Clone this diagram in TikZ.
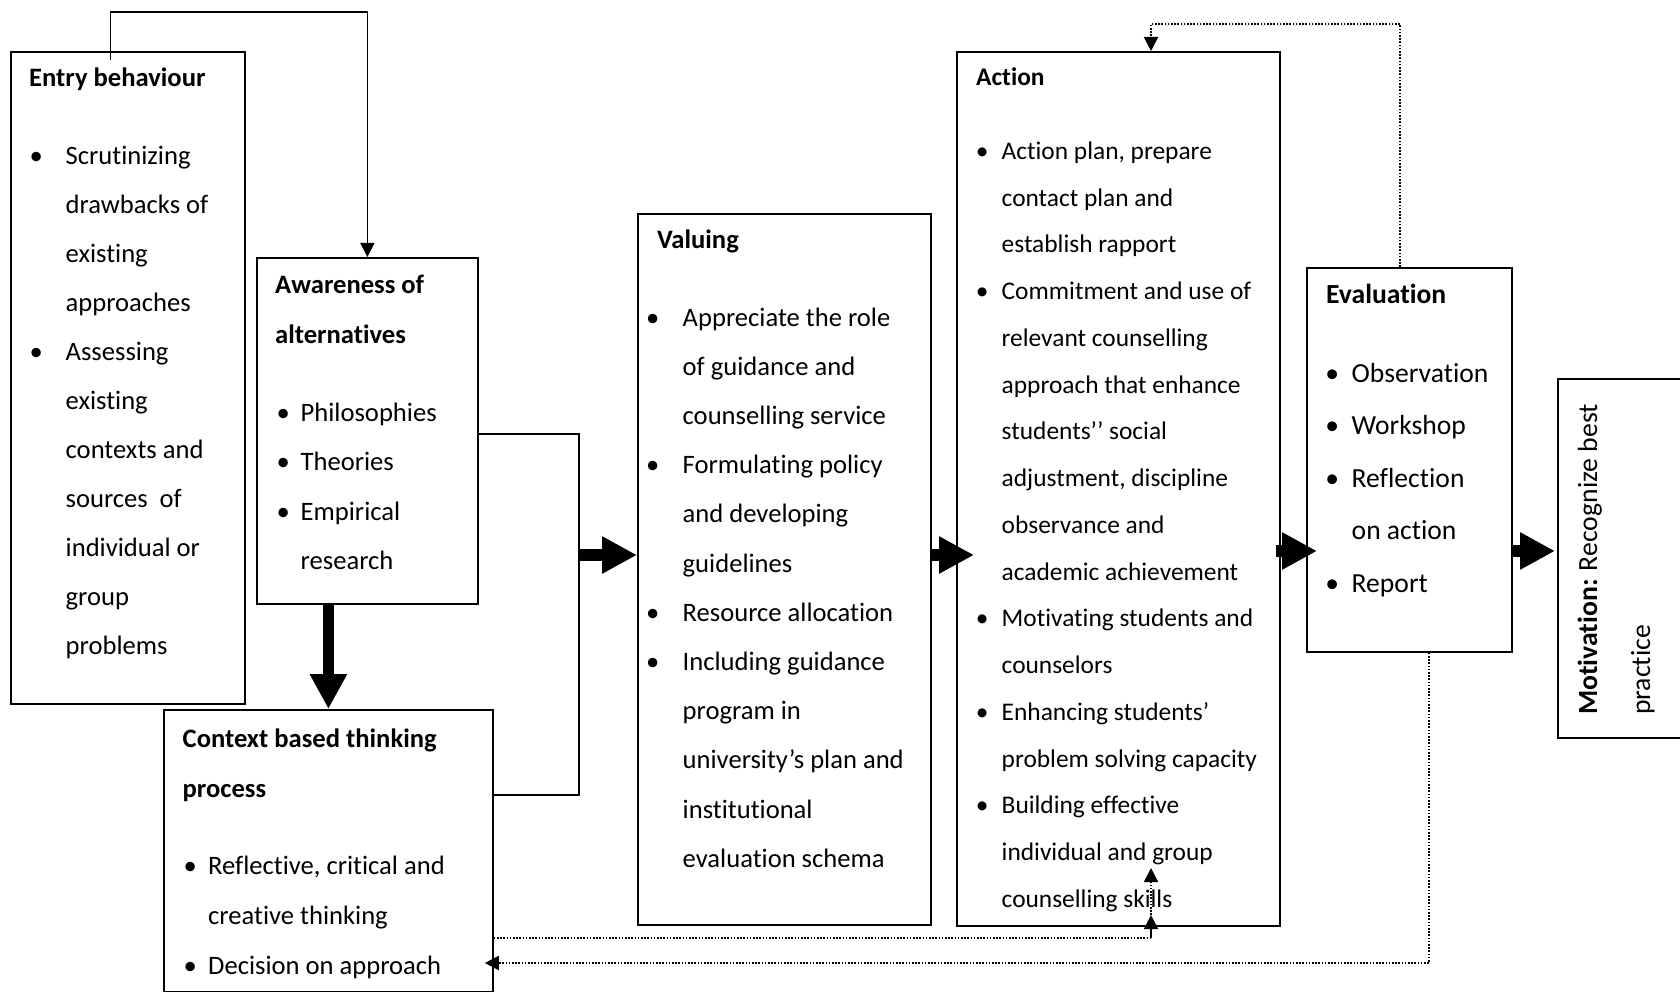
\documentclass[tikz,border=0pt]{standalone}
\usepackage{fontspec}
\setmainfont{Carlito}[Ligatures={NoCommon}]
\usetikzlibrary{arrows.meta}
\newlength\boff
\newlength\toff
\newcommand\bi[1]{\makebox[\toff][l]{\hspace*{\boff}\makebox[0pt]{\textbullet}}#1}
\newcommand\ci[1]{\hspace*{\toff}#1}
\begin{document}
\begin{tikzpicture}[x=1pt,y=-1pt,
  box/.style={draw, line width=1.8pt, inner sep=0pt, anchor=north west},
  txt/.style={anchor=base west, inner sep=0pt},
  conn/.style={line width=1.5pt},
  thinarr/.style={line width=1.5pt, -{Triangle[width=14pt,length=14pt]}},
  blk/.style={line width=11.5pt, -{Triangle[width=35pt,length=35pt]}},
  dotl/.style={line width=2pt, dash pattern=on 1.6pt off 1.6pt},
  dotarr/.style={dotl, -{Triangle[width=14pt,length=14pt]}}]
\useasboundingbox (0,0) rectangle (1680,992);
\clip (0,0) rectangle (1680,992);
% boxes
\node[box, minimum width=234pt, minimum height=652pt] (entry) at (10,51) {};
\node[box, minimum width=221pt, minimum height=346pt] (aw) at (256,257) {};
\node[box, minimum width=329pt, minimum height=282pt] (ctx) at (163,709) {};
\node[box, minimum width=293pt, minimum height=711pt] (val) at (637,213) {};
\node[box, minimum width=323pt, minimum height=874pt] (act) at (956,51) {};
\node[box, minimum width=205pt, minimum height=384pt] (ev) at (1306,267) {};
\node[box, minimum width=170pt, minimum height=359pt] (mot) at (1557,378) {};
% texts
\node[txt, font={\fontsize{26.6}{49}\selectfont}] (entrytxt) at (29,87) {%
\setlength\boff{7pt}\setlength\toff{36.5pt}%
\begin{tabular}[t]{@{}l@{}}
\textbf{Entry behaviour}\\[29pt]
\bi{Scrutinizing}\\
\ci{drawbacks of}\\
\ci{existing}\\
\ci{approaches}\\
\bi{Assessing}\\
\ci{existing}\\
\ci{contexts and}\\
\ci{sources\hspace{0.22em} of}\\
\ci{individual or}\\
\ci{group}\\
\ci{problems}
\end{tabular}};
\node[txt, font={\fontsize{26.6}{49.5}\selectfont}] (awtxt) at (275,293.5) {%
\setlength\boff{8pt}\setlength\toff{25.5pt}%
\begin{tabular}[t]{@{}l@{}}
\textbf{Awareness of}\\
\textbf{alternatives}\\[28.5pt]
\bi{Philosophies}\\
\bi{Theories}\\
\bi{Empirical}\\
\ci{research}
\end{tabular}};
\node[txt, font={\fontsize{26.6}{50}\selectfont}] (ctxtxt) at (182.5,747) {%
\setlength\boff{7.5pt}\setlength\toff{25.5pt}%
\begin{tabular}[t]{@{}l@{}}
\textbf{Context based thinking}\\
\textbf{process}\\[27pt]
\bi{Reflective, critical and}\\
\ci{creative thinking}\\
\bi{Decision on approach}
\end{tabular}};
\node[txt, font={\fontsize{26.6}{49.2}\selectfont}] (valtxt) at (657,248) {%
\setlength\boff{-4.5pt}\setlength\toff{25.5pt}%
\begin{tabular}[t]{@{}l@{}}
\textbf{Valuing}\\[28.8pt]
\bi{Appreciate the role}\\
\ci{of guidance and}\\
\ci{counselling service}\\
\bi{Formulating policy}\\
\ci{and developing}\\
\ci{guidelines}\\
\bi{Resource allocation}\\
\bi{Including guidance}\\
\ci{program in}\\
\ci{university’s plan and}\\
\ci{institutional}\\
\ci{evaluation schema}
\end{tabular}};
\node[txt, font={\fontsize{25.4}{46.75}\selectfont}] (acttxt) at (976,86) {%
\setlength\boff{6pt}\setlength\toff{25.5pt}%
\begin{tabular}[t]{@{}l@{}}
\textbf{Action}\\[26.75pt]
\bi{Action plan, prepare}\\
\ci{contact plan and}\\
\ci{establish rapport}\\
\bi{Commitment and use of}\\
\ci{relevant counselling}\\
\ci{approach that enhance}\\
\ci{students’’ social}\\
\ci{adjustment, discipline}\\
\ci{observance and}\\
\ci{academic achievement}\\
\bi{Motivating students and}\\
\ci{counselors}\\
\bi{Enhancing students’}\\
\ci{problem solving capacity}\\
\bi{Building effective}\\
\ci{individual and group}\\
\ci{counselling skills}
\end{tabular}};
\node[txt, font={\fontsize{27.6}{52.5}\selectfont}] (evtxt) at (1326,303) {%
\setlength\boff{6pt}\setlength\toff{25.5pt}%
\begin{tabular}[t]{@{}l@{}}
\textbf{Evaluation}\\[26.5pt]
\bi{Observation}\\
\bi{Workshop}\\
\bi{Reflection}\\
\ci{on action}\\
\bi{Report}
\end{tabular}};
\node[txt, rotate=90, font={\fontsize{27.7}{33}\selectfont}] (mot1) at (1597,715) {\textbf{Motivation:} Recognize best};
\node[txt, rotate=90, font={\fontsize{27.7}{33}\selectfont}] (mot2) at (1650,715) {practice};
% connectors
\coordinate (e0) at (110.5,60);
\coordinate (e1) at (110.5,12);
\draw[thinarr] (e0) -- (e1) -| (aw.north);
\draw[blk] (aw.south -| ctx.north) -- (ctx.north);
\coordinate (br1) at (579,434);
\coordinate (br2) at (579,795);
\coordinate (bm) at (579,555);
\coordinate (ym) at (0,551);
\draw[conn] (aw.east |- br1) -- (br1) -- (br2) -- (br2 -| ctx.east);
\draw[blk] (bm) -- (bm -| val.west);
\draw[blk] (val.east |- bm) -- ([xshift=18pt]act.west |- bm);
\draw[blk] ([xshift=-5pt]act.east |- ym) -- ([xshift=11pt]ev.west |- ym);
\draw[blk] (ev.east |- ym) -- ([xshift=-2pt]mot.west |- ym);
% dotted feedback
\coordinate (t1) at (1400,24);
\coordinate (t2) at (1151,24);
\draw[dotarr] (t1 |- ev.north) -- (t1) -- (t2) -- (t2 |- act.north);
\coordinate (l1) at (1151,938);
\coordinate (l2) at (1151,915);
\coordinate (l3) at (1151,868);
\draw[dotl] (l1 -| ctx.east) -- (l1);
\draw[conn, -{Triangle[width=14pt,length=14pt]}] (l1) -- (l2);
\draw[dotarr] (l2) -- (l3);
\coordinate (m1) at (1429,963);
\draw[dotarr] (m1 |- ev.south) -- (m1) -- ([xshift=-9pt]m1 -| ctx.east);
\end{tikzpicture}
\end{document}
